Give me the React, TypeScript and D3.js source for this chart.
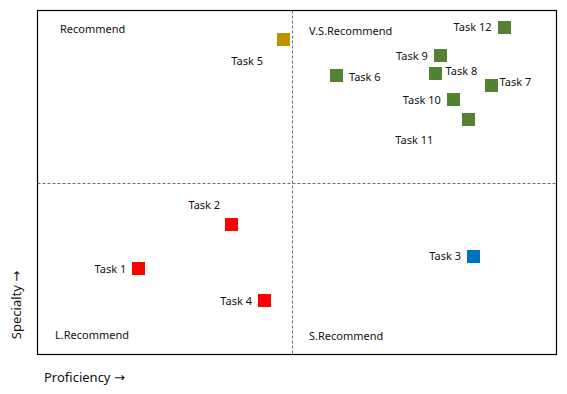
import React, { useEffect, useRef } from 'react';
import * as d3 from 'd3';

// task names, proficiency (x) and specialty (y)
const tasks = ['Task 1', 'Task 2', 'Task 3', 'Task 4', 'Task 5', 'Task 6', 'Task 7', 'Task 8', 'Task 9', 'Task 10', 'Task 11', 'Task 12'];
const proficiency = [19.5, 37.4, 84.0, 43.75, 47.4, 57.6, 87.4, 76.6, 77.6, 80.1, 83.0, 89.9];
const specialty = [24.9, 37.9, 28.6, 15.6, 91.7, 81.0, 78.3, 81.8, 86.8, 74.0, 68.2, 95.2];
const groups = ['low', 'low', 'spec', 'low', 'prof', 'top', 'top', 'top', 'top', 'top', 'top', 'top'];

const quadrantLabels = ['Recommend', 'V.S.Recommend', 'L.Recommend', 'S.Recommend'];
const splitX = 49.1;
const splitY = 50;

const groupColor: Record<string, string> = {
    low: '#ff0000',
    spec: '#0070c0',
    prof: '#bf9000',
    top: '#548235'
};

// label placement: anchor, dx, dy (px from point centre)
const labelPlace: Record<string, [string, number, number]> = {
    'Task 1': ['end', -12.5, 0],
    'Task 2': ['end', -11.5, -18.5],
    'Task 3': ['end', -12.5, 0],
    'Task 4': ['end', -12.5, 0],
    'Task 5': ['end', -20.5, 22.5],
    'Task 6': ['start', 12.5, 1.5],
    'Task 7': ['start', 8.5, -2.5],
    'Task 8': ['start', 10.5, -1.5],
    'Task 9': ['end', -12.5, 0.5],
    'Task 10': ['end', -12.5, 0.5],
    'Task 11': ['middle', -54, 20.5],
    'Task 12': ['end', -12.5, 0.5]
};

const App = () => {
    const svgRef = useRef<SVGSVGElement>(null);

    useEffect(() => {
        const W = 567;
        const H = 394;
        const box = { left: 37.5, top: 10.5, right: 556.5, bottom: 354.5 };
        const font = "'Noto Sans', sans-serif";

        const svg = d3.select(svgRef.current);
        svg.selectAll('*').remove();
        svg.attr('width', W).attr('height', H);

        const x = d3.scaleLinear().domain([0, 100]).range([box.left, box.right]);
        const y = d3.scaleLinear().domain([0, 100]).range([box.bottom, box.top]);

        svg.append('rect')
            .attr('x', 0).attr('y', 0).attr('width', W).attr('height', H)
            .attr('fill', '#fff');

        // quadrant split lines
        svg.append('line')
            .attr('x1', Math.round(x(splitX)) + 0.5).attr('x2', Math.round(x(splitX)) + 0.5)
            .attr('y1', box.top).attr('y2', box.bottom)
            .attr('stroke', '#6f6f6f').attr('stroke-dasharray', '3,2');
        svg.append('line')
            .attr('x1', box.left).attr('x2', box.right)
            .attr('y1', Math.round(y(splitY)) + 0.5).attr('y2', Math.round(y(splitY)) + 0.5)
            .attr('stroke', '#6f6f6f').attr('stroke-dasharray', '3,2');

        svg.append('rect')
            .attr('x', box.left).attr('y', box.top)
            .attr('width', box.right - box.left).attr('height', box.bottom - box.top)
            .attr('fill', 'none').attr('stroke', '#000').attr('stroke-width', 1.2);

        // quadrant names
        const qPos: [number, number][] = [[60, 33], [309, 35], [55, 339], [309, 340]];
        quadrantLabels.forEach((q, i) => {
            svg.append('text')
                .attr('x', qPos[i][0]).attr('y', qPos[i][1])
                .style('font-family', font).style('font-size', '11px').attr('fill', '#111')
                .text(q);
        });

        const data = tasks.map((t, i) => ({ name: t, px: proficiency[i], sp: specialty[i], g: groups[i] }));

        svg.selectAll('.pt')
            .data(data)
            .enter()
            .append('rect')
            .attr('class', 'pt')
            .attr('x', d => Math.round(x(d.px) - 6.5))
            .attr('y', d => Math.round(y(d.sp) - 6.5))
            .attr('width', 13).attr('height', 13)
            .attr('fill', d => groupColor[d.g]);

        svg.selectAll('.lbl')
            .data(data)
            .enter()
            .append('text')
            .attr('class', 'lbl')
            .attr('x', d => x(d.px) + labelPlace[d.name][1])
            .attr('y', d => y(d.sp) + labelPlace[d.name][2])
            .attr('dy', '0.35em')
            .attr('text-anchor', d => labelPlace[d.name][0])
            .style('font-family', font).style('font-size', '11px').attr('fill', '#111')
            .text(d => d.name);

        const xt = svg.append('text')
            .attr('x', 44).attr('y', 382)
            .style('font-family', font).style('font-size', '13px').attr('fill', '#111');
        xt.append('tspan').text('Proficiency ');
        xt.append('tspan').style('font-family', "'DejaVu Sans', sans-serif").text('\u2192');

        const yt = svg.append('text')
            .attr('transform', 'rotate(-90)')
            .attr('x', -305).attr('y', 21)
            .attr('text-anchor', 'middle')
            .style('font-family', font).style('font-size', '13px').attr('fill', '#111');
        yt.append('tspan').text('Specialty ');
        yt.append('tspan').style('font-family', "'DejaVu Sans', sans-serif").text('\u2192');
    }, []);

    return <svg ref={svgRef} style={{ position: 'absolute', left: 0, top: 0 }}></svg>;
};

export default App;
